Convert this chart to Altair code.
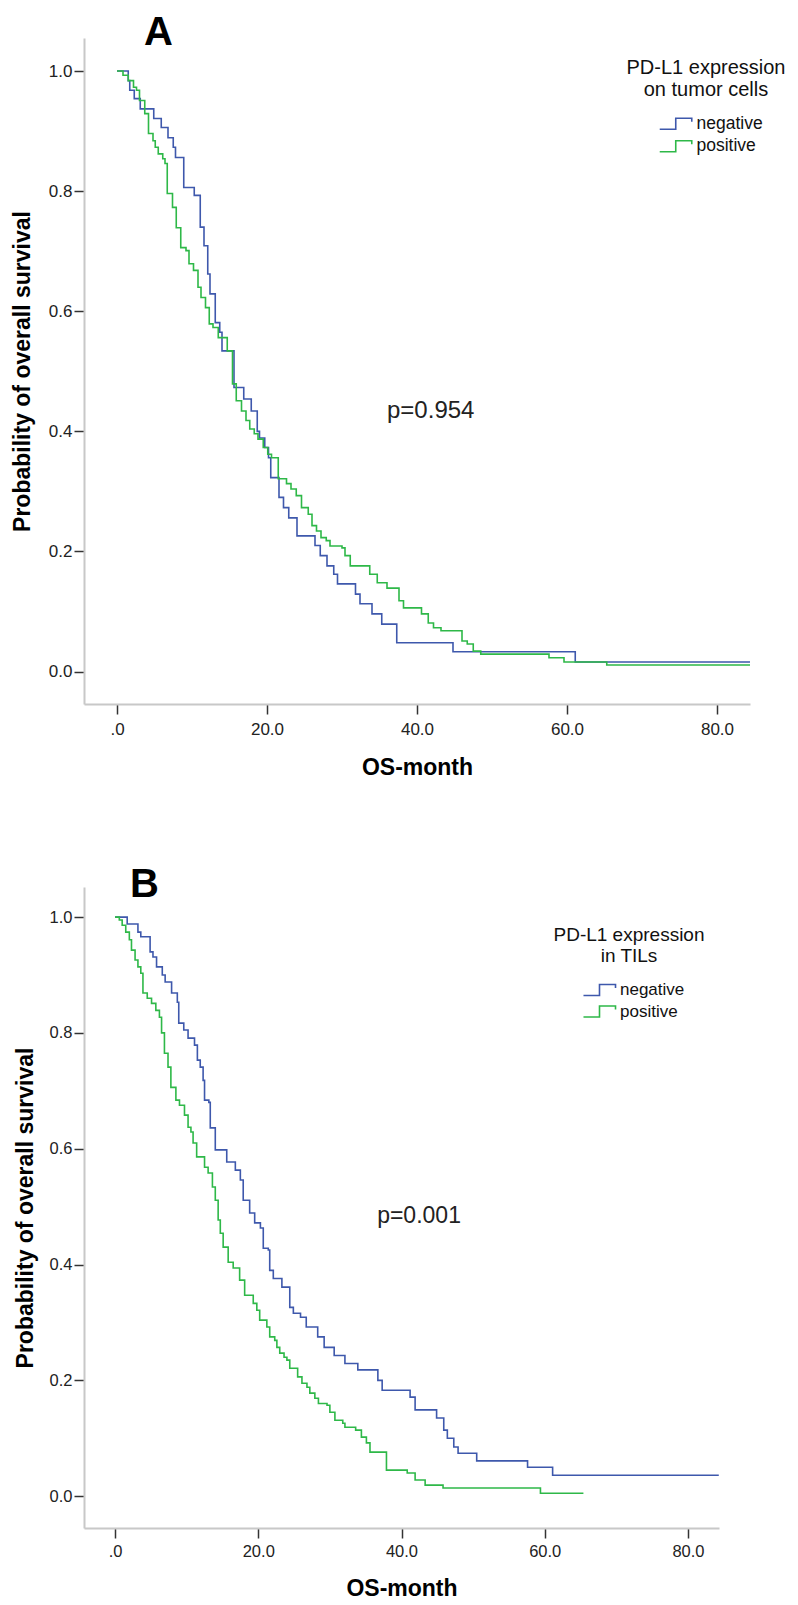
import altair as alt
import pandas as pd

FONT = "Liberation Sans"
groups = ["negative", "positive"]
colors = ["#3E58AC", "#2EB848"]

# ---- Panel A: PD-L1 on tumor cells ----
a_neg_t = [0, 1.5, 1.7, 2.3, 3.1, 4.9, 5.9, 6.8, 7.5, 7.8, 8.9, 10.3, 11.1, 11.6, 12.1, 12.4, 13.1, 13.7,
           14.0, 15.6, 16.9, 17.9, 18.7, 19.0, 19.7, 20.2, 20.5, 21.6, 22.2, 22.9, 24.0, 26.4, 27.1, 28.0,
           28.9, 29.4, 31.8, 32.4, 34.0, 35.3, 37.3, 44.8, 61.1, 84.4]
a_neg_s = [1.0, 0.984, 0.968, 0.954, 0.937, 0.921, 0.906, 0.889, 0.873, 0.856, 0.806, 0.793, 0.740, 0.709,
           0.662, 0.629, 0.581, 0.565, 0.534, 0.473, 0.454, 0.434, 0.400, 0.389, 0.373, 0.356, 0.323, 0.290,
           0.273, 0.256, 0.226, 0.210, 0.193, 0.176, 0.162, 0.146, 0.129, 0.113, 0.096, 0.079, 0.048, 0.033,
           0.016, 0.016]
a_pos_t = [0, 0.8, 1.5, 2.2, 2.6, 3.0, 3.7, 4.2, 4.8, 5.1, 5.5, 6.1, 6.4, 6.7, 7.4, 7.9, 8.5, 9.2, 9.6,
           10.2, 10.8, 11.2, 11.8, 12.3, 12.8, 13.5, 14.7, 15.4, 15.9, 16.6, 17.2, 17.7, 18.3, 18.8, 19.5,
           20.1, 20.6, 21.5, 22.6, 23.2, 23.9, 24.6, 25.5, 26.0, 26.6, 27.2, 27.9, 28.4, 30.0, 30.4, 31.1,
           33.7, 34.7, 36.0, 37.6, 38.2, 40.6, 41.5, 42.2, 43.2, 46.0, 46.7, 47.5, 48.5, 57.6, 59.6, 65.3, 84.4]
a_pos_s = [1.0, 0.993, 0.984, 0.973, 0.968, 0.951, 0.929, 0.896, 0.884, 0.873, 0.862, 0.854, 0.846, 0.796,
           0.773, 0.739, 0.706, 0.701, 0.679, 0.668, 0.640, 0.623, 0.606, 0.579, 0.573, 0.556, 0.534, 0.479,
           0.451, 0.434, 0.418, 0.404, 0.396, 0.387, 0.373, 0.362, 0.356, 0.321, 0.313, 0.304, 0.293, 0.273,
           0.262, 0.243, 0.234, 0.223, 0.218, 0.209, 0.206, 0.193, 0.176, 0.162, 0.148, 0.139, 0.118, 0.106,
           0.096, 0.081, 0.073, 0.068, 0.051, 0.046, 0.034, 0.029, 0.023, 0.016, 0.011, 0.011]

# ---- Panel B: PD-L1 in TILs ----
b_neg_t = [0, 1.7, 3.2, 3.6, 4.9, 5.3, 5.8, 6.6, 7.0, 7.9, 8.7, 8.9, 9.6, 10.2, 11.1, 11.5, 11.9, 12.3,
           12.5, 13.1, 13.3, 14.0, 15.6, 16.8, 17.5, 17.9, 18.8, 19.5, 20.3, 20.7, 21.4, 21.6, 22.1, 23.3,
           24.4, 24.9, 25.9, 26.7, 28.3, 29.2, 30.6, 32.1, 33.9, 36.7, 37.3, 41.2, 41.9, 44.9, 45.9, 46.4,
           47.3, 47.9, 50.5, 57.6, 61.1, 84.3]
b_neg_s = [1.0, 0.988, 0.974, 0.966, 0.940, 0.931, 0.914, 0.900, 0.888, 0.869, 0.853, 0.817, 0.805, 0.791,
           0.779, 0.753, 0.741, 0.718, 0.684, 0.680, 0.636, 0.598, 0.577, 0.563, 0.546, 0.511, 0.489, 0.472,
           0.463, 0.428, 0.425, 0.390, 0.376, 0.361, 0.326, 0.316, 0.309, 0.292, 0.275, 0.257, 0.243, 0.229,
           0.218, 0.200, 0.183, 0.171, 0.149, 0.135, 0.114, 0.100, 0.085, 0.074, 0.061, 0.050, 0.036, 0.036]
b_pos_t = [0, 0.6, 1.0, 1.5, 2.0, 2.3, 2.8, 3.2, 3.6, 3.9, 4.5, 5.1, 5.7, 6.2, 6.5, 6.9, 7.4, 7.8, 8.5,
           9.0, 9.7, 10.2, 10.6, 10.9, 11.4, 12.5, 13.0, 13.6, 14.0, 14.4, 14.7, 15.1, 15.8, 16.5, 17.4,
           18.1, 19.3, 19.8, 20.2, 21.2, 21.6, 22.3, 22.6, 23.0, 23.6, 24.0, 24.4, 25.5, 26.1, 26.8, 27.2,
           27.9, 28.4, 29.6, 30.0, 30.7, 31.8, 32.1, 33.6, 34.4, 35.1, 35.6, 37.9, 40.8, 41.9, 43.3, 45.8,
           59.4, 65.4]
b_pos_s = [1.0, 0.995, 0.986, 0.974, 0.961, 0.943, 0.926, 0.914, 0.903, 0.869, 0.860, 0.851, 0.839, 0.827,
           0.800, 0.765, 0.741, 0.706, 0.684, 0.675, 0.658, 0.637, 0.629, 0.610, 0.586, 0.568, 0.558, 0.534,
           0.511, 0.477, 0.454, 0.430, 0.404, 0.394, 0.373, 0.347, 0.333, 0.321, 0.304, 0.292, 0.275, 0.269,
           0.257, 0.247, 0.240, 0.235, 0.221, 0.206, 0.195, 0.188, 0.178, 0.169, 0.160, 0.157, 0.145, 0.131,
           0.126, 0.119, 0.114, 0.102, 0.092, 0.076, 0.045, 0.040, 0.028, 0.019, 0.014, 0.005, 0.005]

x_ticks = [0, 20, 40, 60, 80]
y_ticks = [0.0, 0.2, 0.4, 0.6, 0.8, 1.0]

STEP = "M-2.67,0.92H0V-0.92H2.67V-0.35"


def km_frame(neg_t, neg_s, pos_t, pos_s):
    rows = []
    for g, ts, ss in (("negative", neg_t, neg_s), ("positive", pos_t, pos_s)):
        for i, (t, s) in enumerate(zip(ts, ss)):
            rows.append({"t": t, "s": s, "group": g, "i": i})
    return pd.DataFrame(rows)


def panel(df, *, width, height, xdom, ydom, letter, letter_dx, letter_offset, ytitle_x, xtitle_y,
          label_pad, leg_title, leg_x, leg_y, leg_tfs, leg_lh, leg_tpad, leg_lfs, leg_rowpad,
          ptext, pt, ps, pfs, tick_fs):
    x = alt.X("t:Q", scale=alt.Scale(domain=xdom, nice=False, zero=False),
              axis=alt.Axis(title="OS-month", values=x_ticks,
                            labelExpr="datum.value == 0 ? '.0' : format(datum.value, '.1f')",
                            labelPadding=label_pad, labelFontSize=tick_fs,
                            titleY=xtitle_y, titleBaseline="alphabetic"))
    y = alt.Y("s:Q", scale=alt.Scale(domain=ydom, nice=False, zero=False),
              axis=alt.Axis(title="Probability of overall survival", values=y_ticks, format=".1f",
                            labelPadding=2, labelFontSize=tick_fs,
                            titleX=ytitle_x, titleY=height / 2, titleAngle=270,
                            titleAlign="center", titleBaseline="alphabetic"))
    lines = alt.Chart(df).mark_line(interpolate="step-after", strokeWidth=1.6, clip=True).encode(
        color=alt.Color("group:N", scale=alt.Scale(domain=groups, range=colors),
                        legend=alt.Legend(title=leg_title, orient="none", legendX=leg_x, legendY=leg_y,
                                          symbolType=STEP, symbolSize=144, symbolStrokeWidth=1.6,
                                          symbolFillColor="transparent", symbolOffset=17, labelOffset=12,
                                          titleAlign="center", titleAnchor="middle",
                                          titleFontSize=leg_tfs, titleFontWeight="normal",
                                          titleLineHeight=leg_lh, titlePadding=leg_tpad,
                                          titleFont=FONT, titleColor="#111",
                                          labelFontSize=leg_lfs, labelFont=FONT, labelColor="#111",
                                          rowPadding=leg_rowpad, padding=0)),
        order="i:Q")
    pdf = pd.DataFrame({"t": [pt], "s": [ps], "label": [ptext]})
    ptxt = alt.Chart(pdf).mark_text(align="left", baseline="alphabetic", fontSize=pfs, font=FONT,
                                    color="#222").encode(text="label:N")
    return alt.layer(lines, ptxt).encode(x=x, y=y).properties(
        width=width, height=height,
        title=alt.TitleParams(letter, fontSize=40, fontWeight="bold", font=FONT, anchor="start",
                              align="center", dx=letter_dx, offset=letter_offset,
                              baseline="alphabetic", color="#000"))


dfA = km_frame(a_neg_t, a_neg_s, a_pos_t, a_pos_s)
dfB = km_frame(b_neg_t, b_neg_s, b_pos_t, b_pos_s)

chartA = panel(dfA, width=666, height=666, xdom=[-4.4, 84.4], ydom=[-0.054, 1.055],
               letter="A", letter_dx=147, letter_offset=-47, ytitle_x=-54.5, xtitle_y=70, label_pad=7,
               leg_title=["PD-L1 expression", "on tumor cells"], leg_x=543, leg_y=19.5,
               leg_tfs=20, leg_lh=22, leg_tpad=15.5, leg_lfs=17.5, leg_rowpad=3.5,
               ptext="p=0.954", pt=36.0, ps=0.423, pfs=24, tick_fs=17)
chartB = panel(dfB, width=635, height=641, xdom=[-4.33, 84.33], ydom=[-0.055, 1.052],
               letter="B", letter_dx=130, letter_offset=-50, ytitle_x=-51.5, xtitle_y=67, label_pad=5,
               leg_title=["PD-L1 expression", "in TILs"], leg_x=469, leg_y=38.5,
               leg_tfs=19, leg_lh=21, leg_tpad=16, leg_lfs=17, leg_rowpad=2.5,
               ptext="p=0.001", pt=36.6, ps=0.472, pfs=23, tick_fs=16.5)

chart = alt.vconcat(
    chartA, chartB, spacing=86, background="white",
    padding={"top": 5, "left": 3, "right": 0, "bottom": 0},
).resolve_scale(
    color="independent", x="independent", y="independent"
).configure_view(stroke=None).configure_axis(
    grid=False, domainColor="#C8C8C8", domainWidth=2, tickColor="#333", tickWidth=1.5, tickSize=10,
    labelFont=FONT, labelColor="#222", titleFont=FONT, titleFontSize=23, titleFontWeight="bold",
    titleColor="#000"
)

chart.save("out.html", embed_options={"renderer": "svg", "actions": False})
